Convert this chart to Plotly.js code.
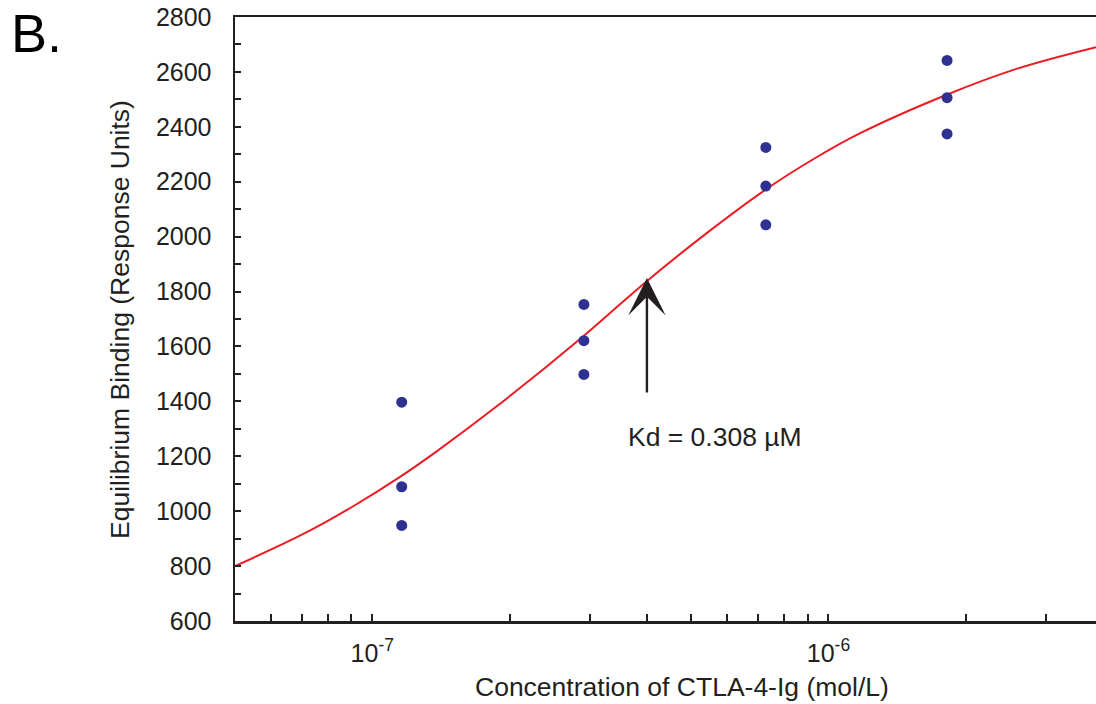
<!DOCTYPE html>
<html>
<head>
<meta charset="utf-8">
<script src="https://cdn.plot.ly/plotly-3.0.1.min.js"></script>
<style>
  html, body { margin: 0; padding: 0; background: #ffffff; overflow: hidden; }
  #chart { width: 1096px; height: 704px; }
</style>
</head>
<body>
<div id="chart"></div>
<script>
// Measured data (concentration in mol/L, binding in response units)
const concentration = [1.16e-7, 1.16e-7, 1.16e-7, 2.91e-7, 2.91e-7, 2.91e-7, 7.29e-7, 7.29e-7, 7.29e-7, 1.82e-6, 1.82e-6, 1.82e-6];
const binding = [1397, 1089, 948, 1753, 1621, 1498, 2325, 2184, 2043, 2642, 2506, 2374];

// Fitted curve
const fitConcentration = [5.0e-8, 7.06e-8, 9.08e-8, 1.148e-7, 1.384e-7, 1.871e-7, 2.92e-7, 3.92e-7, 5.40e-7, 7.29e-7, 9.24e-7, 1.171e-6, 1.817e-6, 2.584e-6, 3.86e-6];
const fitBinding = [800, 917, 1018, 1124, 1218, 1381, 1641, 1826, 2012, 2172, 2281, 2376, 2517, 2611, 2690];

// Ticks
const xTickVals = [6e-8, 7e-8, 8e-8, 9e-8, 1e-7, 2e-7, 3e-7, 4e-7, 5e-7, 6e-7, 7e-7, 8e-7, 9e-7, 1e-6, 2e-6, 3e-6];
const xTickText = ['', '', '', '', '10<sup>-7</sup>', '', '', '', '', '', '', '', '', '10<sup>-6</sup>', '', ''];
const yTickVals = [600, 700, 800, 900, 1000, 1100, 1200, 1300, 1400, 1500, 1600, 1700, 1800, 1900, 2000, 2100, 2200, 2300, 2400, 2500, 2600, 2700, 2800];
const yTickText = ['600', '', '800', '', '1000', '', '1200', '', '1400', '', '1600', '', '1800', '', '2000', '', '2200', '', '2400', '', '2600', '', '2800'];

// Annotation values
const kdArrowX = 4.0e-7;
const kdArrowTip = 1849;
const kdArrowTail = 1376;
const kdLabel = 'Kd = 0.308 µM';
const kdLabelX = 5.63e-7;
const kdLabelY = 1270;

const FONT = 'Liberation Sans, Arial, Helvetica, sans-serif';
const INK = '#231f20';

const traces = [
  {
    x: fitConcentration, y: fitBinding,
    type: 'scatter', mode: 'lines',
    line: { color: '#ed1c24', width: 2, shape: 'spline', smoothing: 1 },
    hoverinfo: 'skip', showlegend: false
  },
  {
    x: concentration, y: binding,
    type: 'scatter', mode: 'markers',
    marker: { color: '#2e3192', size: 11, line: { width: 0 } },
    showlegend: false
  }
];

const layout = {
  width: 1096, height: 704,
  margin: { l: 235, r: 0, t: 17, b: 83 },
  paper_bgcolor: '#ffffff', plot_bgcolor: '#ffffff',
  font: { family: FONT, size: 25, color: INK },
  showlegend: false,
  xaxis: {
    type: 'log',
    range: [Math.log10(5e-8), Math.log10(3.86e-6)],
    tickmode: 'array', tickvals: xTickVals, ticktext: xTickText,
    ticks: 'inside', ticklen: 7, tickwidth: 2, tickcolor: INK,
    showline: true, linecolor: INK, linewidth: 2.5, mirror: true,
    showgrid: false, zeroline: false,
    tickfont: { family: FONT, size: 25, color: INK },
    ticklabelstandoff: 8
  },
  yaxis: {
    range: [600, 2800],
    tickmode: 'array', tickvals: yTickVals, ticktext: yTickText,
    ticks: 'inside', ticklen: 6, tickwidth: 2, tickcolor: INK,
    showline: true, linecolor: INK, linewidth: 2.5, mirror: false,
    showgrid: false, zeroline: false,
    tickfont: { family: FONT, size: 25, color: INK },
    ticklabelstandoff: 16
  },
  annotations: [
    {
      xref: 'paper', yref: 'paper', x: 0.519, y: -0.109,
      xanchor: 'center', yanchor: 'middle',
      text: 'Concentration of CTLA-4-Ig (mol/L)', showarrow: false,
      font: { family: FONT, size: 26.5, color: INK }
    },
    {
      xref: 'paper', yref: 'paper', x: -0.1336, y: 0.5,
      xanchor: 'center', yanchor: 'middle', textangle: -90,
      text: 'Equilibrium Binding (Response Units)', showarrow: false,
      font: { family: FONT, size: 26.5, color: INK }
    },
    {
      xref: 'paper', yref: 'paper', x: -0.262, y: 1.026,
      xanchor: 'left', yanchor: 'top',
      text: 'B.', showarrow: false,
      font: { family: FONT, size: 54, color: '#000000' }
    },
    {
      xref: 'x', yref: 'y', axref: 'x', ayref: 'y',
      x: Math.log10(kdArrowX), y: kdArrowTip,
      ax: Math.log10(kdArrowX), ay: kdArrowTail,
      text: ' ', showarrow: true,
      arrowhead: 3, arrowsize: 2.6, arrowwidth: 2.4, arrowcolor: INK,
      standoff: 0, startstandoff: 0
    },
    {
      xref: 'x', yref: 'y',
      x: Math.log10(kdLabelX), y: kdLabelY,
      xanchor: 'center', yanchor: 'middle',
      text: kdLabel, showarrow: false,
      font: { family: FONT, size: 26.5, color: INK }
    }
  ]
};

Plotly.newPlot('chart', traces, layout, { displayModeBar: false, staticPlot: true });
</script>
</body>
</html>
